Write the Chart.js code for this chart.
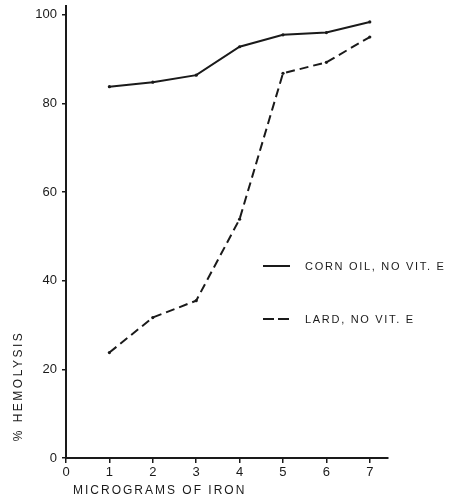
<!DOCTYPE html>
<html>
<head>
<meta charset="utf-8">
<script src="https://cdn.jsdelivr.net/npm/chart.js@4/dist/chart.umd.min.js"></script>
<style>
  html, body { margin: 0; padding: 0; background: #fff; }
  #wrap { width: 453px; height: 502px; position: relative; }
</style>
</head>
<body>
<div id="wrap"><canvas id="chart" width="453" height="502"></canvas></div>
<script>
// Micrograms of iron added
const ironDoses = [1, 2, 3, 4, 5, 6, 7];
// % hemolysis for each diet
const cornOilNoVitE = [83.8, 84.8, 86.4, 92.8, 95.5, 96.0, 98.4];
const lardNoVitE = [23.8, 31.7, 35.5, 53.9, 86.8, 89.3, 95.0];
// Axis tick values
const xTickValues = [0, 1, 2, 3, 4, 5, 6, 7];
const yTickValues = [0, 20, 40, 60, 80, 100];
const seriesLabels = ['CORN OIL, NO VIT. E', 'LARD, NO VIT. E'];
const xAxisTitle = 'MICROGRAMS OF IRON';
const yAxisTitle = '% HEMOLYSIS';

const FONT = '"Liberation Sans", Arial, sans-serif';
const INK = '#1a1a1a';

const toPoints = (xs, ys) => xs.map((x, i) => ({ x: x, y: ys[i] }));

// Legend and axis titles, drawn in widely spaced capitals
const annotations = {
  id: 'annotations',
  afterDraw(chart) {
    const ctx = chart.ctx;
    ctx.save();
    ctx.fillStyle = INK;
    ctx.strokeStyle = INK;
    ctx.lineWidth = 2;
    ctx.textBaseline = 'middle';
    ctx.textAlign = 'left';

    ctx.font = '11px ' + FONT;
    ctx.letterSpacing = '1.7px';
    const rows = [
      { y: 266, dash: [], label: seriesLabels[0] },
      { y: 319, dash: [11, 4], label: seriesLabels[1] }
    ];
    rows.forEach(r => {
      ctx.setLineDash(r.dash);
      ctx.beginPath();
      ctx.moveTo(263, r.y);
      ctx.lineTo(290, r.y);
      ctx.stroke();
      ctx.setLineDash([]);
      ctx.fillText(r.label, 305, r.y + 1);
    });

    // x-axis title, left-aligned under the axis
    ctx.font = '12px ' + FONT;
    ctx.letterSpacing = '2px';
    ctx.fillText(xAxisTitle, 73, 491);

    // rotated y-axis title
    ctx.letterSpacing = '2.5px';
    ctx.translate(19, 386);
    ctx.rotate(-Math.PI / 2);
    ctx.textAlign = 'center';
    ctx.fillText(yAxisTitle, 0, 0);
    ctx.letterSpacing = '0px';
    ctx.restore();
  }
};

new Chart(document.getElementById('chart'), {
  type: 'line',
  data: {
    datasets: [
      {
        label: seriesLabels[0],
        data: toPoints(ironDoses, cornOilNoVitE),
        borderColor: INK,
        backgroundColor: INK,
        borderWidth: 2,
        pointRadius: 1.6,
        pointBorderWidth: 0,
        tension: 0,
        fill: false
      },
      {
        label: seriesLabels[1],
        data: toPoints(ironDoses, lardNoVitE),
        borderColor: INK,
        backgroundColor: INK,
        borderWidth: 2,
        borderDash: [9, 5],
        pointRadius: 1.6,
        pointBorderWidth: 0,
        tension: 0,
        fill: false
      }
    ]
  },
  options: {
    responsive: false,
    animation: false,
    events: [],
    layout: { padding: { top: 6, right: 65, bottom: 0, left: 0 } },
    plugins: {
      legend: { display: false },
      tooltip: { enabled: false }
    },
    scales: {
      x: {
        type: 'linear',
        min: 0,
        max: 7.42,
        afterBuildTicks: s => { s.ticks = xTickValues.map(v => ({ value: v })); },
        afterFit: s => { s.height = 44; s.paddingLeft = 0; s.paddingRight = 0; },
        border: { display: true, color: INK, width: 2 },
        grid: { display: true, drawOnChartArea: false, drawTicks: true, tickLength: 5, color: INK, lineWidth: 1.5 },
        ticks: { color: INK, font: { family: FONT, size: 13 }, padding: 2, maxRotation: 0, autoSkip: false }
      },
      y: {
        type: 'linear',
        min: 0,
        max: 102,
        afterBuildTicks: s => { s.ticks = yTickValues.map(v => ({ value: v })); },
        afterFit: s => { s.width = 66; s.paddingTop = 0; s.paddingBottom = 0; },
        border: { display: true, color: INK, width: 2 },
        grid: { display: true, drawOnChartArea: false, drawTicks: true, tickLength: 4, color: INK, lineWidth: 1.5 },
        ticks: { color: INK, font: { family: FONT, size: 13 }, padding: 5 }
      }
    }
  },
  plugins: [annotations]
});
</script>
</body>
</html>
